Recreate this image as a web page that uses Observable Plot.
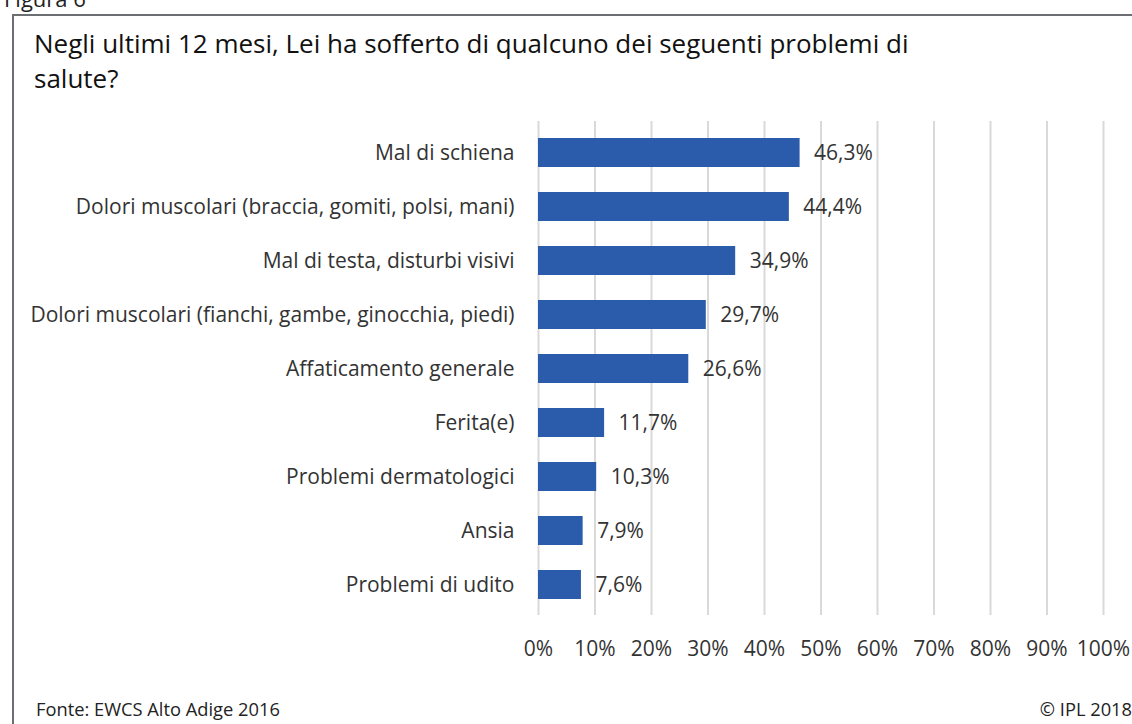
<!DOCTYPE html>
<html>
<head>
<meta charset="utf-8">
<script src="https://cdn.jsdelivr.net/npm/d3@7"></script>
<script src="https://cdn.jsdelivr.net/npm/@observablehq/plot@0.6"></script>
<style>
  html, body { margin: 0; padding: 0; background: #fff; }
  body { width: 1132px; height: 724px; position: relative; overflow: hidden; font-family: "Open Sans", "Noto Sans", sans-serif; color: #222; }
  #fig { position: absolute; left: 4px; top: -17px; font-size: 22px; color: #222; }
  #box { position: absolute; left: 12px; top: 14px; width: 1140px; height: 740px; border-left: 2px solid #6b6f73; border-top: 2px solid #6b6f73; }
  #title { position: absolute; left: 34px; top: 26px; width: 910px; font-size: 26px; line-height: 35px; color: #111; letter-spacing: 0; }
  #chart { position: absolute; left: 0; top: 109px; }
  #source { position: absolute; left: 36px; top: 696px; font-size: 18.3px; color: #222; }
  #copy { position: absolute; right: 0px; top: 696px; font-size: 18.3px; color: #222; }
</style>
</head>
<body>
<div id="fig">Figura 6</div>
<div id="box"></div>
<div id="title">Negli ultimi 12 mesi, Lei ha sofferto di qualcuno dei seguenti problemi di salute?</div>
<div id="chart"></div>
<div id="source">Fonte: EWCS Alto Adige 2016</div>
<div id="copy">© IPL 2018</div>
<script>
const categories = [
  "Mal di schiena",
  "Dolori muscolari (braccia, gomiti, polsi, mani)",
  "Mal di testa, disturbi visivi",
  "Dolori muscolari (fianchi, gambe, ginocchia, piedi)",
  "Affaticamento generale",
  "Ferita(e)",
  "Problemi dermatologici",
  "Ansia",
  "Problemi di udito"
];
const values = [46.3, 44.4, 34.9, 29.7, 26.6, 11.7, 10.3, 7.9, 7.6];
const xTicks = [0, 10, 20, 30, 40, 50, 60, 70, 80, 90, 100];

const data = categories.map((c, i) => ({category: c, value: values[i]}));
const fmt = v => v.toFixed(1).replace(".", ",") + "%";

const chart = Plot.plot({
  width: 1132,
  height: 560,
  marginLeft: 538,
  marginRight: 29,
  marginTop: 12,
  marginBottom: 54,
  style: { fontFamily: "'Open Sans', 'Noto Sans', sans-serif", fontSize: "21px", color: "#333", background: "transparent" },
  x: { domain: [0, 100], ticks: xTicks, tickFormat: d => d + "%", tickSize: 0, tickPadding: 26, label: null, fontSize: "20.5px" },
  y: { domain: categories, paddingInner: 0.47, paddingOuter: 0.235, tickSize: 0, tickPadding: 24, label: null },
  marks: [
    Plot.ruleX(xTicks, { stroke: "#d9d9d9", strokeWidth: 2, strokeOpacity: 1 }),
    Plot.barX(data, { x: "value", y: "category", fill: "#2b5cab" }),
    Plot.text(data, { x: "value", y: "category", text: d => fmt(d.value), textAnchor: "start", dx: 14, fill: "#333", fontSize: 21 })
  ]
});
document.getElementById("chart").appendChild(chart);
</script>
</body>
</html>
